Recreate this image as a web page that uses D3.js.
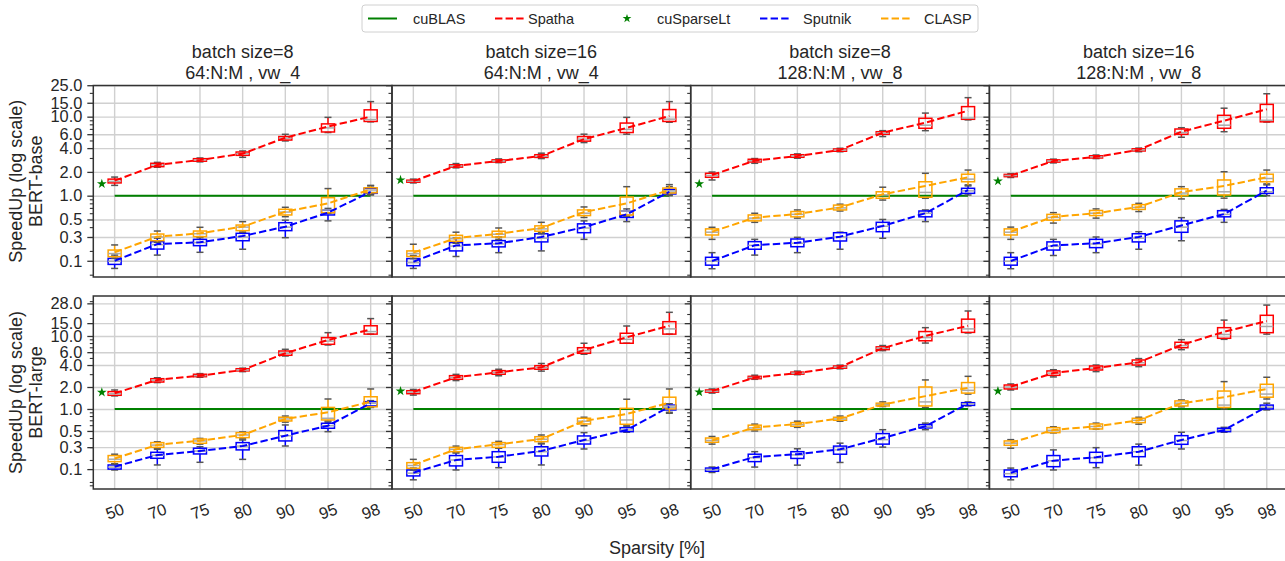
<!DOCTYPE html>
<html>
<head>
<meta charset="utf-8">
<script src="https://cdn.jsdelivr.net/npm/d3@7"></script>
<style>
body { margin: 0; background: #fff; }
svg { display: block; font-family: "Liberation Sans", Arial, sans-serif; }
</style>
</head>
<body>
<svg></svg>
<script>
// Categories and labels
let sparsity = ["50", "70", "75", "80", "90", "95", "98"];
let models = ["BERT-base", "BERT-large"];
let panelTitles = [
	["batch size=8", "64:N:M , vw_4"],
	["batch size=16", "64:N:M , vw_4"],
	["batch size=8", "128:N:M , vw_8"],
	["batch size=16", "128:N:M , vw_8"]
];
let legendNames = ["cuBLAS", "Spatha", "cuSparseLt", "Sputnik", "CLASP"];

// y ticks (positions on the log axis and the labels printed there)
let tickValuesTop = [0.15, 0.3, 0.5, 1, 2, 4, 6, 10, 15, 25];
let tickLabelsTop = ["0.1", "0.3", "0.5", "1.0", "2.0", "4.0", "6.0", "10.0", "15.0", "25.0"];
let tickValuesBottom = [0.15, 0.3, 0.5, 1, 2, 4, 6, 10, 15, 28];
let tickLabelsBottom = ["0.1", "0.3", "0.5", "1.0", "2.0", "4.0", "6.0", "10.0", "15.0", "28.0"];

// cuBLAS baseline and cuSparseLt speedups
let cublas = 1.0;
let cusparseltBase = [1.41, 1.58, 1.41, 1.53];
let cusparseltLarge = [1.69, 1.76, 1.7, 1.76];

// box stats per sparsity: [whisker low, q1, median, q3, whisker high, mean]
// BERT-base, bs8, 64
let spatha_base_8_64 = [[1.35,1.45,1.52,1.62,1.72,1.55],[2.29,2.33,2.45,2.57,2.64,2.45],[2.68,2.73,2.83,2.94,3.0,2.83],[3.06,3.24,3.4,3.57,3.68,3.4],[4.93,5.06,5.35,5.6,5.98,5.42],[6.3,6.4,7.2,8.1,9.8,7.5],[8.6,8.7,9.2,12.2,15.5,10.0]];
let sputnik_base_8_64 = [[0.12,0.135,0.148,0.161,0.177,0.15],[0.177,0.211,0.24,0.262,0.289,0.244],[0.192,0.233,0.255,0.28,0.303,0.257],[0.21,0.269,0.3,0.334,0.34,0.309],[0.294,0.361,0.4,0.455,0.49,0.405],[0.48,0.57,0.6,0.66,0.69,0.61],[1.02,1.07,1.1,1.24,1.33,1.12]];
let clasp_base_8_64 = [[0.161,0.169,0.185,0.205,0.238,0.192],[0.257,0.269,0.3,0.327,0.357,0.303],[0.294,0.303,0.33,0.357,0.398,0.334],[0.347,0.361,0.4,0.425,0.469,0.405],[0.542,0.57,0.62,0.673,0.713,0.627],[0.598,0.609,0.66,0.944,1.23,0.8],[1.04,1.09,1.18,1.26,1.35,1.2]];
// BERT-base, bs16, 64
let spatha_base_16_64 = [[1.45,1.48,1.52,1.57,1.62,1.53],[2.25,2.3,2.38,2.46,2.55,2.38],[2.62,2.66,2.75,2.84,2.92,2.75],[2.95,3.05,3.15,3.3,3.45,3.18],[4.7,4.9,5.2,5.6,6.0,5.2],[6.0,6.3,6.9,8.3,9.8,7.2],[8.5,8.7,9.3,12.3,15.5,10.2]];
let sputnik_base_16_64 = [[0.12,0.13,0.142,0.16,0.175,0.146],[0.17,0.2,0.23,0.255,0.29,0.235],[0.19,0.225,0.245,0.27,0.3,0.25],[0.2,0.26,0.29,0.33,0.345,0.3],[0.28,0.34,0.39,0.44,0.48,0.4],[0.47,0.53,0.57,0.64,0.68,0.58],[1.0,1.05,1.1,1.2,1.3,1.12]];
let clasp_base_16_64 = [[0.16,0.17,0.185,0.2,0.243,0.19],[0.25,0.265,0.285,0.315,0.345,0.29],[0.28,0.3,0.325,0.355,0.39,0.33],[0.33,0.355,0.38,0.415,0.46,0.39],[0.53,0.56,0.6,0.66,0.72,0.62],[0.55,0.57,0.64,0.96,1.3,0.8],[1.02,1.08,1.15,1.25,1.38,1.18]];
// BERT-base, bs8, 128
let spatha_base_8_128 = [[1.58,1.71,1.8,1.92,1.99,1.83],[2.57,2.67,2.77,2.89,2.95,2.77],[2.98,3.06,3.18,3.3,3.38,3.18],[3.6,3.65,3.78,3.9,3.98,3.79],[5.6,5.98,6.2,6.45,6.65,6.27],[6.65,7.13,7.8,9.53,11.1,8.4],[9.1,9.26,9.6,13.4,17.4,11.9]];
let sputnik_base_8_128 = [[0.119,0.132,0.148,0.166,0.19,0.149],[0.177,0.21,0.235,0.262,0.28,0.236],[0.19,0.226,0.25,0.283,0.297,0.254],[0.21,0.267,0.3,0.34,0.345,0.303],[0.289,0.35,0.41,0.46,0.5,0.414],[0.47,0.54,0.6,0.64,0.66,0.6],[1.02,1.07,1.15,1.24,1.37,1.18]];
let clasp_base_8_128 = [[0.28,0.318,0.345,0.38,0.398,0.35],[0.46,0.48,0.52,0.57,0.599,0.527],[0.52,0.54,0.58,0.63,0.66,0.586],[0.64,0.66,0.7,0.76,0.78,0.71],[0.88,0.927,1.02,1.12,1.28,1.04],[0.927,0.955,1.1,1.5,1.92,1.33],[1.33,1.5,1.62,1.87,2.11,1.71]];
// BERT-base, bs16, 128
let spatha_base_16_128 = [[1.7,1.74,1.8,1.86,1.9,1.8],[2.6,2.66,2.75,2.84,2.9,2.75],[2.95,3.0,3.1,3.2,3.27,3.1],[3.6,3.68,3.8,3.92,4.0,3.8],[5.49,5.98,6.3,6.98,7.25,6.45],[6.45,7.13,7.8,10.4,12.8,8.9],[8.55,8.6,9.0,14.3,19.5,12.4]];
let sputnik_base_16_128 = [[0.119,0.132,0.148,0.166,0.19,0.149],[0.175,0.205,0.23,0.26,0.28,0.235],[0.19,0.22,0.245,0.28,0.3,0.25],[0.21,0.26,0.29,0.33,0.35,0.3],[0.269,0.344,0.4,0.48,0.527,0.42],[0.46,0.54,0.58,0.646,0.67,0.586],[1.0,1.07,1.12,1.26,1.41,1.16]];
let clasp_base_16_128 = [[0.28,0.318,0.345,0.38,0.4,0.35],[0.45,0.49,0.53,0.58,0.61,0.54],[0.52,0.56,0.6,0.65,0.68,0.6],[0.63,0.67,0.71,0.77,0.8,0.72],[0.91,1.0,1.08,1.22,1.3,1.11],[0.93,1.02,1.12,1.58,2.01,1.33],[1.37,1.5,1.65,1.87,2.11,1.71]];
// BERT-large, bs8, 64
let spatha_large_8_64 = [[1.51,1.54,1.62,1.73,1.82,1.64],[2.3,2.34,2.48,2.6,2.68,2.5],[2.72,2.77,2.86,2.99,3.05,2.86],[3.25,3.32,3.42,3.56,3.62,3.42],[5.32,5.44,5.8,6.23,6.57,5.8],[7.53,7.69,8.5,9.48,11.1,8.8],[10.6,10.6,11.5,13.8,17.3,12.3]];
let sputnik_large_8_64 = [[0.146,0.15,0.16,0.171,0.178,0.162],[0.171,0.211,0.232,0.255,0.28,0.234],[0.186,0.242,0.265,0.29,0.304,0.266],[0.204,0.275,0.31,0.346,0.376,0.311],[0.311,0.365,0.43,0.505,0.604,0.431],[0.489,0.544,0.59,0.637,0.66,0.59],[1.05,1.1,1.2,1.26,1.3,1.2]];
let clasp_large_8_64 = [[0.176,0.19,0.205,0.23,0.24,0.21],[0.29,0.298,0.32,0.346,0.355,0.322],[0.33,0.339,0.365,0.388,0.395,0.368],[0.39,0.405,0.44,0.474,0.485,0.44],[0.66,0.685,0.73,0.77,0.8,0.73],[0.685,0.707,0.746,1.05,1.37,0.9],[1.07,1.07,1.2,1.47,1.88,1.26]];
// BERT-large, bs16, 64
let spatha_large_16_64 = [[1.55,1.62,1.7,1.78,1.85,1.71],[2.45,2.55,2.7,2.86,2.98,2.72],[2.85,2.99,3.15,3.35,3.5,3.18],[3.3,3.5,3.7,3.92,4.2,3.72],[5.62,5.79,6.3,6.91,7.95,6.43],[7.95,7.95,9.0,10.9,13.7,9.6],[10.6,10.6,12.5,15.7,21.1,13.8]];
let sputnik_large_16_64 = [[0.107,0.121,0.132,0.146,0.155,0.134],[0.146,0.166,0.2,0.23,0.252,0.2],[0.157,0.186,0.22,0.26,0.29,0.222],[0.171,0.227,0.26,0.304,0.332,0.266],[0.283,0.331,0.37,0.427,0.474,0.376],[0.48,0.489,0.515,0.555,0.57,0.516],[0.9,0.969,1.05,1.13,1.18,1.07]];
let clasp_large_16_64 = [[0.146,0.154,0.168,0.184,0.204,0.171],[0.25,0.26,0.28,0.298,0.31,0.28],[0.29,0.298,0.325,0.346,0.36,0.328],[0.34,0.357,0.385,0.417,0.44,0.388],[0.59,0.623,0.68,0.746,0.77,0.685],[0.6,0.617,0.707,1.02,1.36,0.854],[0.873,1.0,1.1,1.45,1.88,1.22]];
// BERT-large, bs8, 128
let spatha_large_8_128 = [[1.65,1.7,1.75,1.82,1.88,1.76],[2.55,2.6,2.7,2.8,2.9,2.7],[2.95,3.0,3.1,3.2,3.3,3.1],[3.55,3.62,3.75,3.88,3.98,3.75],[6.3,6.5,6.8,7.1,7.4,6.8],[8.0,8.6,9.5,11.5,13.0,10.0],[11.0,11.2,12.5,17.0,22.0,13.8]];
let sputnik_large_8_128 = [[0.135,0.14,0.148,0.155,0.16,0.15],[0.16,0.19,0.215,0.24,0.26,0.22],[0.17,0.21,0.235,0.26,0.285,0.24],[0.185,0.24,0.275,0.31,0.34,0.28],[0.3,0.33,0.38,0.46,0.52,0.4],[0.52,0.55,0.57,0.61,0.64,0.58],[1.1,1.12,1.18,1.22,1.25,1.18]];
let clasp_large_8_128 = [[0.33,0.35,0.37,0.4,0.42,0.37],[0.5,0.52,0.55,0.6,0.62,0.56],[0.56,0.58,0.61,0.65,0.68,0.62],[0.68,0.7,0.73,0.77,0.8,0.74],[1.08,1.1,1.15,1.2,1.25,1.15],[1.05,1.1,1.25,2.0,2.5,1.5],[1.6,1.65,1.8,2.3,2.8,1.95]];
// BERT-large, bs16, 128
let spatha_large_16_128 = [[1.82,1.88,2.0,2.13,2.2,2.02],[2.75,2.89,3.1,3.32,3.45,3.11],[3.25,3.42,3.62,3.88,4.0,3.64],[3.8,4.0,4.3,4.69,4.9,4.36],[6.5,6.91,7.4,8.2,8.9,7.53],[9.0,9.3,10.5,13.0,16.5,11.4],[10.6,11.1,13.5,19.2,26.5,16.0]];
let sputnik_large_16_128 = [[0.107,0.118,0.13,0.146,0.155,0.134],[0.146,0.162,0.195,0.23,0.275,0.196],[0.157,0.184,0.215,0.255,0.295,0.218],[0.17,0.222,0.26,0.304,0.33,0.26],[0.283,0.328,0.37,0.431,0.48,0.376],[0.48,0.489,0.515,0.544,0.56,0.516],[0.97,1.0,1.06,1.13,1.2,1.07]];
let clasp_large_16_128 = [[0.29,0.318,0.34,0.365,0.38,0.343],[0.47,0.474,0.51,0.555,0.57,0.516],[0.53,0.532,0.575,0.623,0.64,0.579],[0.62,0.65,0.7,0.746,0.77,0.7],[1.07,1.1,1.2,1.29,1.33,1.2],[1.0,1.05,1.13,1.76,2.37,1.45],[1.37,1.45,1.6,2.18,2.72,1.88]];

// Layout
let width = 1285;
let height = 561;
let panelLeft = 93.3;
let panelWidth = 298.7;
let rowTop = [85.5, 296];
let rowBottom = [277, 489];
let boxWidth = 13;
let capWidth = 7;
let starOffset = -0.3;
let dash = "7.4,3.2";

let colors = { cublas: "#008000", spatha: "#ff0000", sputnik: "#0000ff", clasp: "#ffa500" };
let textColor = "#262626";

let svg = d3.select("svg").attr("width", width).attr("height", height);

let yScales = [
	d3.scaleLog().domain([0.0935, 24.8]).range([rowBottom[0], rowTop[0]]),
	d3.scaleLog().domain([0.0801, 35.3]).range([rowBottom[1], rowTop[1]])
];
let tickValues = [tickValuesTop, tickValuesBottom];
let tickLabels = [tickLabelsTop, tickLabelsBottom];
let stars = [cusparseltBase, cusparseltLarge];

// table built from the named arrays: [row][col] -> series
let panelData = [
	[
		[spatha_base_8_64, sputnik_base_8_64, clasp_base_8_64],
		[spatha_base_16_64, sputnik_base_16_64, clasp_base_16_64],
		[spatha_base_8_128, sputnik_base_8_128, clasp_base_8_128],
		[spatha_base_16_128, sputnik_base_16_128, clasp_base_16_128]
	],
	[
		[spatha_large_8_64, sputnik_large_8_64, clasp_large_8_64],
		[spatha_large_16_64, sputnik_large_16_64, clasp_large_16_64],
		[spatha_large_8_128, sputnik_large_8_128, clasp_large_8_128],
		[spatha_large_16_128, sputnik_large_16_128, clasp_large_16_128]
	]
];
let seriesColors = [colors.spatha, colors.sputnik, colors.clasp];

let minorTicks = (scale) => {
	let [lo, hi] = scale.domain();
	let out = [];
	for (let e = -2; e <= 2; e++) {
		for (let m = 1; m <= 9; m++) {
			let v = m * Math.pow(10, e);
			if (v >= lo && v <= hi) out.push(v);
		}
	}
	return out;
};

let drawPanel = (row, col) => {
	let y = yScales[row];
	let x0 = panelLeft + col * panelWidth;
	let x = d3.scaleLinear().domain([-0.5, sparsity.length - 0.5]).range([x0, x0 + panelWidth]);
	let g = svg.append("g");

	// grid
	g.append("g")
		.attr("transform", "translate(" + x0 + ",0)")
		.call(d3.axisLeft(y).tickValues(tickValues[row]).tickSize(-panelWidth).tickFormat(""))
		.call((s) => s.select(".domain").remove())
		.selectAll("line").attr("stroke", "#d0d0d0").attr("stroke-width", 1.4);
	g.append("g")
		.selectAll("line")
		.data(sparsity)
		.join("line")
		.attr("x1", (d, i) => x(i)).attr("x2", (d, i) => x(i))
		.attr("y1", rowTop[row]).attr("y2", rowBottom[row])
		.attr("stroke", "#d0d0d0").attr("stroke-width", 1.4);

	// y axis ticks
	let minorAxis = g.append("g")
		.attr("transform", "translate(" + x0 + ",0)")
		.call(d3.axisLeft(y).tickValues(minorTicks(y).filter((v) => !tickValues[row].includes(v))).tickSize(3.5).tickFormat(""));
	minorAxis.select(".domain").remove();
	minorAxis.selectAll("line").attr("stroke", "#333").attr("stroke-width", 1.1);

	let majorAxis = g.append("g")
		.attr("transform", "translate(" + x0 + ",0)")
		.call(d3.axisLeft(y).tickValues(tickValues[row]).tickSize(6).tickPadding(5)
			.tickFormat((d, i) => (col === 0 ? tickLabels[row][i] : "")));
	majorAxis.select(".domain").remove();
	majorAxis.selectAll("line").attr("stroke", "#333").attr("stroke-width", 1.3);
	majorAxis.selectAll("text").attr("font-size", 16.4).attr("fill", textColor)
		.attr("font-family", "'Liberation Sans', Arial, sans-serif");

	// cuBLAS baseline
	g.append("line")
		.attr("x1", x(0)).attr("x2", x(sparsity.length - 1))
		.attr("y1", y(cublas)).attr("y2", y(cublas))
		.attr("stroke", colors.cublas).attr("stroke-width", 2);

	// boxes
	panelData[row][col].forEach((series, si) => {
		let c = seriesColors[si];
		let bg = g.append("g");
		series.forEach((s, i) => {
			let cx = x(i);
			let [wlo, q1, med, q3, whi] = s;
			bg.append("line").attr("x1", cx).attr("x2", cx).attr("y1", y(q3)).attr("y2", y(whi))
				.attr("stroke", c).attr("stroke-width", 1.5);
			bg.append("line").attr("x1", cx).attr("x2", cx).attr("y1", y(q1)).attr("y2", y(wlo))
				.attr("stroke", c).attr("stroke-width", 1.5);
			[wlo, whi].forEach((w) => {
				bg.append("line").attr("x1", cx - capWidth / 2).attr("x2", cx + capWidth / 2)
					.attr("y1", y(w)).attr("y2", y(w))
					.attr("stroke", "#555").attr("stroke-width", 1.5);
			});
			bg.append("rect")
				.attr("x", cx - boxWidth / 2).attr("width", boxWidth)
				.attr("y", y(q3)).attr("height", Math.max(1, y(q1) - y(q3)))
				.attr("fill", "none").attr("stroke", c).attr("stroke-width", 1.5);
			bg.append("line").attr("x1", cx - boxWidth / 2).attr("x2", cx + boxWidth / 2)
				.attr("y1", y(med)).attr("y2", y(med))
				.attr("stroke", "#aaa").attr("stroke-width", 1.5);
		});
	});

	// mean lines
	panelData[row][col].forEach((series, si) => {
		g.append("path")
			.datum(series)
			.attr("d", d3.line().x((d, i) => x(i)).y((d) => y(d[5])))
			.attr("fill", "none")
			.attr("stroke", seriesColors[si])
			.attr("stroke-width", 2)
			.attr("stroke-dasharray", dash);
	});

	// cuSparseLt star
	g.append("path")
		.attr("d", d3.symbol().type(d3.symbolStar).size(30)())
		.attr("transform", "translate(" + x(starOffset) + "," + y(stars[row][col]) + ")")
		.attr("fill", colors.cublas);

	// frame
	g.append("rect")
		.attr("x", x0).attr("y", rowTop[row])
		.attr("width", panelWidth).attr("height", rowBottom[row] - rowTop[row])
		.attr("fill", "none").attr("stroke", "#333").attr("stroke-width", 1.5);

	// titles
	if (row === 0) {
		panelTitles[col].forEach((t, k) => {
			svg.append("text")
				.attr("x", x0 + panelWidth / 2).attr("y", 57.5 + k * 21.6)
				.attr("text-anchor", "middle").attr("font-size", 18).attr("fill", textColor)
				.text(t);
		});
	}

	// x tick labels
	if (row === 1) {
		sparsity.forEach((s, i) => {
			svg.append("text")
				.attr("transform", "translate(" + x(i) + ",511) rotate(-20)")
				.attr("text-anchor", "middle").attr("dominant-baseline", "central")
				.attr("font-size", 16.4).attr("fill", textColor)
				.text(s);
		});
	}
};

for (let r = 0; r < 2; r++) {
	for (let c = 0; c < 4; c++) drawPanel(r, c);
}

// y labels
models.forEach((m, r) => {
	let cy = (rowTop[r] + rowBottom[r]) / 2;
	svg.append("text")
		.attr("transform", "translate(22," + cy + ") rotate(-90)")
		.attr("text-anchor", "middle").attr("font-size", 18).attr("fill", textColor)
		.text("SpeedUp (log scale)");
	svg.append("text")
		.attr("transform", "translate(42," + cy + ") rotate(-90)")
		.attr("text-anchor", "middle").attr("font-size", 18).attr("fill", textColor)
		.text(m);
});

// x label
svg.append("text")
	.attr("x", 657).attr("y", 554)
	.attr("text-anchor", "middle").attr("font-size", 18).attr("fill", textColor)
	.text("Sparsity [%]");

// legend
let legend = svg.append("g");
legend.append("rect")
	.attr("x", 362).attr("y", 5).attr("width", 616).attr("height", 27).attr("rx", 3)
	.attr("fill", "#fff").attr("stroke", "#d0d0d0").attr("stroke-width", 1);
let legendX = [368, 495, 612, 760, 881];
let legendTextX = [413, 528, 657, 803, 924];
let legendColors = [colors.cublas, colors.spatha, colors.cublas, colors.sputnik, colors.clasp];
legendNames.forEach((name, i) => {
	if (i === 2) {
		legend.append("path")
			.attr("d", d3.symbol().type(d3.symbolStar).size(24)())
			.attr("transform", "translate(627,18.5)")
			.attr("fill", legendColors[i]);
	} else {
		legend.append("line")
			.attr("x1", legendX[i]).attr("x2", legendX[i] + 29)
			.attr("y1", 18.5).attr("y2", 18.5)
			.attr("stroke", legendColors[i]).attr("stroke-width", 2)
			.attr("stroke-dasharray", i === 0 ? null : dash);
	}
	legend.append("text")
		.attr("x", legendTextX[i]).attr("y", 18.5)
		.attr("dominant-baseline", "central")
		.attr("font-size", 14.5).attr("fill", textColor)
		.text(name);
});
</script>
</body>
</html>
